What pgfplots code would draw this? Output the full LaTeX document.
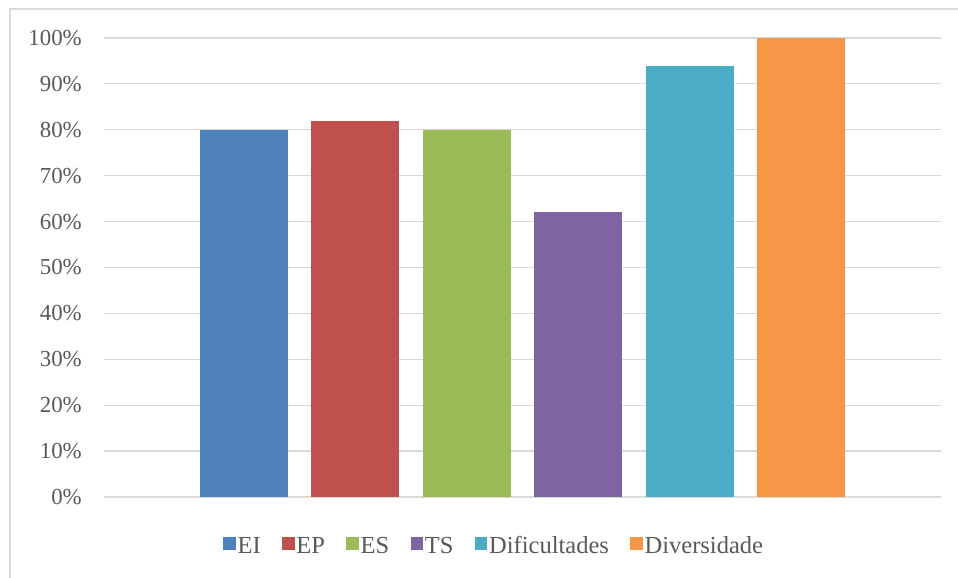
\documentclass[border=0pt]{standalone}
\usepackage{fontspec}
\setmainfont{Liberation Serif}
\usepackage{pgfplots}
\pgfplotsset{compat=1.18}
\definecolor{cEI}{HTML}{4F81BD}
\definecolor{cEP}{HTML}{C0504D}
\definecolor{cES}{HTML}{9BBB59}
\definecolor{cTS}{HTML}{8064A2}
\definecolor{cDif}{HTML}{4BACC6}
\definecolor{cDiv}{HTML}{F79646}
\definecolor{gridc}{HTML}{D9D9D9}
\definecolor{txt}{HTML}{595959}
\begin{document}
\begin{tikzpicture}
\useasboundingbox (0,0) rectangle (958bp,578bp);
\fill[white] (0,0) rectangle (958bp,578bp);
\draw[gridc, line width=1.5bp] (10bp,0) -- (10bp,569bp) -- (958bp,569bp);
\begin{axis}[
  at={(104bp,81bp)}, anchor=south west,
  scale only axis, width=837bp, height=459bp,
  ymin=0, ymax=100, xmin=-1.257, xmax=6.257,
  ytick={0,10,...,100},
  yticklabels={0\%,10\%,20\%,30\%,40\%,50\%,60\%,70\%,80\%,90\%,100\%},
  xtick=\empty,
  ymajorgrids, major grid style={gridc, line width=1.2bp},
  axis line style={draw=none},
  major tick length=0pt,
  yticklabel style={font=\fontsize{22.9bp}{27bp}\selectfont, text=txt, inner sep=0pt, anchor=east, xshift=-22bp},
  ybar, bar width=88bp, bar shift=0pt,
  every axis plot/.append style={draw=none},
  clip=false,
  legend columns=-1,
  legend style={draw=none, fill=none, at={(0.466,-0.107)}, anchor=center,
    font=\fontsize{24.5bp}{28bp}\selectfont, text=txt,
    nodes={inner sep=1.8bp},
    /tikz/every even column/.append style={column sep=19.6bp}},
  legend image code/.code={\fill[#1] (0bp,-3.6bp) rectangle (12.5bp,8.9bp);},
]
\addplot[fill=cEI] coordinates {(0,80)};
\addplot[fill=cEP] coordinates {(1,82)};
\addplot[fill=cES] coordinates {(2,80)};
\addplot[fill=cTS] coordinates {(3,62)};
\addplot[fill=cDif] coordinates {(4,94)};
\addplot[fill=cDiv] coordinates {(5,100)};
\legend{EI,EP,ES,TS,Dificultades,Diversidade}
\end{axis}
\end{tikzpicture}
\end{document}
